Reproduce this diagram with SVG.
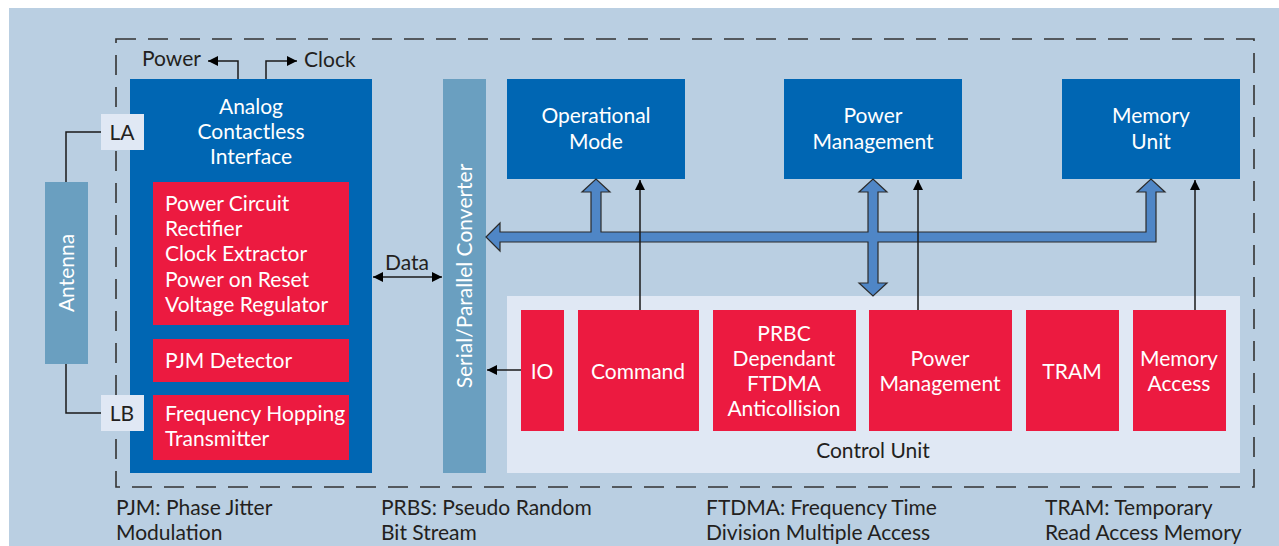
<svg xmlns="http://www.w3.org/2000/svg" width="1279" height="546" viewBox="0 0 1279 546">
<style>
text{font-family:Lato,"Liberation Sans",sans-serif;font-size:21px}
.w{fill:#fff}
.d{fill:#231f20}
.c{text-anchor:middle}
.blue{fill:#0066b3}
.red{fill:#ec1a40}
.steel{fill:#6a9fc0}
.pale{fill:#e0e8f4}
.ln{stroke:#1a1a1a;stroke-width:1.5;fill:none}
</style>
<defs>
<marker id="ah" viewBox="0 0 10 10" refX="10" refY="5" markerWidth="10" markerHeight="10" markerUnits="userSpaceOnUse" orient="auto-start-reverse">
<path d="M0,0 L10,5 L0,10 Z" fill="#000"/>
</marker>
</defs>
<rect x="9" y="8" width="1270" height="538" fill="#bacfe2"/>
<rect x="116" y="39" width="1138" height="448" fill="none" stroke="#333" stroke-width="1.6" stroke-dasharray="20,12"/>

<g id="antenna">
<rect class="steel" x="45" y="182" width="43" height="182"/>
<text class="w c" transform="translate(74,273) rotate(-90)">Antenna</text>
</g>

<g id="analog">
<rect class="blue" x="130" y="79" width="242" height="394"/>
<text class="w c" x="251" y="114">Analog</text>
<text class="w c" x="251" y="139">Contactless</text>
<text class="w c" x="251" y="164">Interface</text>
</g>
<g id="la">
<rect class="pale" x="101" y="114" width="43" height="36"/>
<text class="d c" x="122" y="140">LA</text>
</g>
<g id="lb">
<rect class="pale" x="101" y="395" width="43" height="36"/>
<text class="d c" x="122" y="421">LB</text>
</g>
<g id="power-circuit">
<rect class="red" x="153" y="182" width="196" height="143"/>
<text class="w" x="165" y="211">Power Circuit</text>
<text class="w" x="165" y="236">Rectifier</text>
<text class="w" x="165" y="261">Clock Extractor</text>
<text class="w" x="165" y="287">Power on Reset</text>
<text class="w" x="165" y="312">Voltage Regulator</text>
</g>
<g id="pjm-detector">
<rect class="red" x="153" y="339" width="196" height="43"/>
<text class="w" x="165" y="368">PJM Detector</text>
</g>
<g id="fh-transmitter">
<rect class="red" x="153" y="395" width="196" height="65"/>
<text class="w" x="165" y="421">Frequency Hopping</text>
<text class="w" x="165" y="446">Transmitter</text>
</g>
<g id="power-label"><text class="d" x="142" y="66">Power</text></g>
<g id="clock-label"><text class="d" x="304" y="67">Clock</text></g>

<g id="converter">
<rect class="steel" x="443" y="79" width="43" height="394"/>
<text class="w c" transform="translate(472,276) rotate(-90)">Serial/Parallel Converter</text>
</g>

<g id="operational-mode">
<rect class="blue" x="507" y="79" width="178" height="100"/>
<text class="w c" x="596" y="123">Operational</text>
<text class="w c" x="596" y="149">Mode</text>
</g>
<g id="power-management">
<rect class="blue" x="784" y="79" width="178" height="100"/>
<text class="w c" x="873" y="123">Power</text>
<text class="w c" x="873" y="149">Management</text>
</g>
<g id="memory-unit">
<rect class="blue" x="1062" y="79" width="178" height="100"/>
<text class="w c" x="1151" y="123">Memory</text>
<text class="w c" x="1151" y="149">Unit</text>
</g>

<g id="control-unit">
<rect class="pale" x="507" y="296" width="733" height="177"/>
<text class="d c" x="873" y="458">Control Unit</text>
</g>
<g id="io">
<rect class="red" x="521" y="310" width="43" height="121"/>
<text class="w c" x="542" y="379">IO</text>
</g>
<g id="command">
<rect class="red" x="578" y="310" width="121" height="121"/>
<text class="w c" x="638" y="379">Command</text>
</g>
<g id="prbc">
<rect class="red" x="713" y="310" width="143" height="121"/>
<text class="w c" x="784" y="341">PRBC</text>
<text class="w c" x="784" y="366">Dependant</text>
<text class="w c" x="784" y="391">FTDMA</text>
<text class="w c" x="784" y="416">Anticollision</text>
</g>
<g id="cu-power-management">
<rect class="red" x="869" y="310" width="143" height="121"/>
<text class="w c" x="940" y="366">Power</text>
<text class="w c" x="940" y="391">Management</text>
</g>
<g id="tram">
<rect class="red" x="1026" y="310" width="93" height="121"/>
<text class="w c" x="1072" y="379">TRAM</text>
</g>
<g id="memory-access">
<rect class="red" x="1133" y="310" width="93" height="121"/>
<text class="w c" x="1179" y="366">Memory</text>
<text class="w c" x="1179" y="391">Access</text>
</g>

<g id="connectors">
<path d="M101,132 H66 V182" class="ln"/>
<path d="M66,364 V413 H101" class="ln"/>
<path d="M238,79 V61 H208" class="ln" marker-end="url(#ah)"/>
<path d="M266,79 V61 H297" class="ln" marker-end="url(#ah)"/>
<path d="M373,277 H442" class="ln" marker-start="url(#ah)" marker-end="url(#ah)"/>
<text class="d c" x="407" y="270">Data</text>
<path d="M486,237 L500,223 L500,232 L591,232 L591,192 L582,192 L596,179 L610,192 L601,192 L601,232 L868,232 L868,192 L859,192 L873,179 L887,192 L878,192 L878,232 L1146,232 L1146,192 L1137,192 L1151,179 L1165,192 L1156,192 L1156,242 L878,242 L878,283 L887,283 L873,296 L859,283 L868,283 L868,242 L500,242 L500,251 Z" fill="#4f86c6" stroke="#2b2b2b" stroke-width="1.2" stroke-linejoin="miter"/>
<path d="M640,310 V180" class="ln" marker-end="url(#ah)"/>
<path d="M918,310 V180" class="ln" marker-end="url(#ah)"/>
<path d="M1195,310 V180" class="ln" marker-end="url(#ah)"/>
<path d="M521,370 H487" class="ln" marker-end="url(#ah)"/>
</g>

<g id="legend">
<text class="d" x="116" y="515">PJM: Phase Jitter</text>
<text class="d" x="116" y="540">Modulation</text>
<text class="d" x="381" y="515">PRBS: Pseudo Random</text>
<text class="d" x="381" y="540">Bit Stream</text>
<text class="d" x="706" y="515">FTDMA: Frequency Time</text>
<text class="d" x="706" y="540">Division Multiple Access</text>
<text class="d" x="1045" y="515">TRAM: Temporary</text>
<text class="d" x="1045" y="540">Read Access Memory</text>
</g>
</svg>
